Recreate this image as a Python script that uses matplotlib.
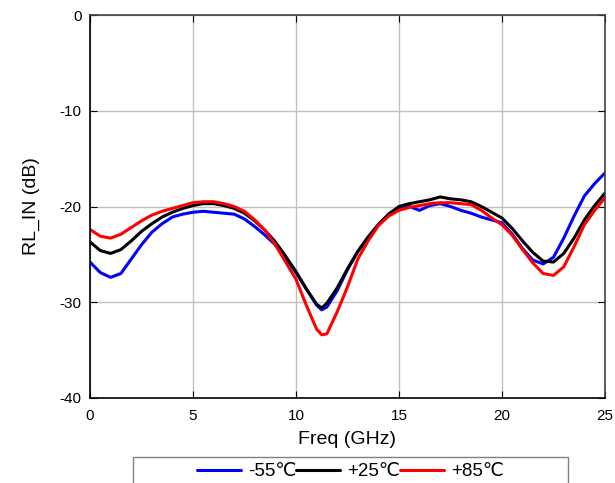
import matplotlib
matplotlib.use("Agg")
import matplotlib.pyplot as plt
from matplotlib.patches import Rectangle

plt.rcParams['font.family'] = ['Liberation Sans', 'DejaVu Sans']
plt.rcParams['axes.unicode_minus'] = False

# Frequency points (GHz) and return loss per temperature (dB)
freq = [0, 0.5, 1, 1.5, 2, 2.5, 3, 3.5, 4, 4.5, 5, 5.5, 6, 6.5, 7, 7.5, 8, 8.5,
        9, 9.5, 10, 10.5, 11, 11.25, 11.5, 12, 12.5, 13, 13.5, 14, 14.5, 15,
        15.5, 16, 16.5, 17, 17.5, 18, 18.5, 19, 19.5, 20, 20.5, 21, 21.5, 22,
        22.5, 23, 23.5, 24, 24.5, 25]

rl_m55 = [-25.8, -26.9, -27.4, -27.0, -25.5, -24.0, -22.7, -21.8, -21.1, -20.8,
          -20.6, -20.5, -20.6, -20.7, -20.8, -21.3, -22.1, -23.0, -24.0, -25.4,
          -26.9, -28.6, -30.3, -30.8, -30.5, -28.8, -26.6, -24.7, -23.2, -21.9,
          -20.8, -20.1, -20.0, -20.4, -19.9, -19.7, -20.0, -20.4, -20.7, -21.1,
          -21.4, -21.7, -22.9, -24.4, -25.6, -26.0, -25.3, -23.3, -21.0, -18.9,
          -17.6, -16.5]

rl_p25 = [-23.7, -24.6, -24.9, -24.5, -23.6, -22.6, -21.8, -21.1, -20.6, -20.2,
          -19.9, -19.7, -19.7, -19.9, -20.2, -20.7, -21.5, -22.5, -23.7, -25.2,
          -26.8, -28.6, -30.2, -30.6, -30.1, -28.5, -26.5, -24.7, -23.2, -21.9,
          -20.8, -20.0, -19.7, -19.5, -19.3, -19.0, -19.2, -19.3, -19.5, -20.0,
          -20.6, -21.2, -22.3, -23.6, -24.8, -25.7, -25.8, -24.9, -23.3, -21.4,
          -19.9, -18.6]

rl_p85 = [-22.4, -23.1, -23.3, -22.9, -22.2, -21.5, -20.9, -20.5, -20.2, -19.9,
          -19.6, -19.5, -19.5, -19.7, -20.0, -20.5, -21.4, -22.5, -24.0, -25.8,
          -27.6, -30.3, -32.8, -33.4, -33.3, -31.0, -28.4, -25.5, -23.6, -22.0,
          -21.0, -20.4, -20.1, -19.9, -19.7, -19.6, -19.6, -19.7, -19.8, -20.4,
          -21.2, -21.9, -23.0, -24.5, -25.9, -27.0, -27.2, -26.3, -24.2, -21.9,
          -20.4, -19.1]

labels = ['-55℃', '+25℃', '+85℃']
colors = ['#0000ff', '#000000', '#ff0000']

fig = plt.figure(figsize=(6.15, 4.83), dpi=100)
ax = fig.add_axes([0.1463, 0.176, 0.8374, 0.7929])

for vals, lab, col in zip([rl_m55, rl_p25, rl_p85], labels, colors):
    ax.plot(freq, vals, color=col, lw=2.2, label=lab,
            solid_joinstyle='round', solid_capstyle='round')

ax.set_xlim(0, 25)
ax.set_ylim(-40, 0)
ax.set_xticks([0, 5, 10, 15, 20, 25])
ax.set_yticks([-40, -30, -20, -10, 0])
ax.grid(True, color='#c0c0c0', lw=1)
ax.set_axisbelow(True)
ax.tick_params(axis='both', labelsize=11, direction='in', length=5,
               right=True, top=True)
ax.tick_params(axis='x', pad=8)
ax.tick_params(axis='y', pad=6)
ax.set_xlabel('Freq (GHz)', fontsize=14, labelpad=6)
ax.set_ylabel('RL_IN (dB)', fontsize=14, labelpad=14)
for s in ax.spines.values():
    s.set_linewidth(1.2)
ax.spines['top'].set_color('#404040')
ax.spines['right'].set_color('#404040')

# legend box (bottom, clipped by figure edge)
fig.add_artist(Rectangle((133 / 615, -0.02), 435 / 615, 0.02 + 26 / 483,
                         transform=fig.transFigure, fill=False,
                         edgecolor='#808080', lw=1))
fig.legend(loc='center', bbox_to_anchor=(0.570, 0.0235), ncol=3,
           frameon=False, fontsize=13.5, handlelength=2.35, handletextpad=0.37,
           columnspacing=0.0, borderaxespad=0, borderpad=0)

fig.savefig('out.png', dpi=100)
